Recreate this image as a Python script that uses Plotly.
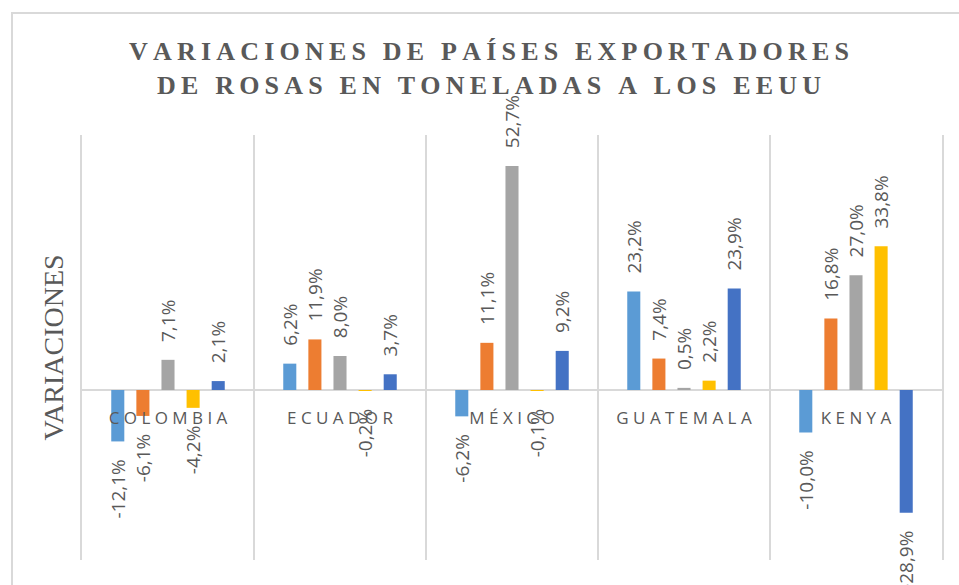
import plotly.graph_objects as go

# ---- data ----
categories = ["COLOMBIA", "ECUADOR", "MÉXICO", "GUATEMALA", "KENYA"]
tick_labels = ["C O L O M B I A", "E C U A D O R", "M É X I C O", "G U A T E M A L A", "K E N Y A"]
series_names = ["Serie 1", "Serie 2", "Serie 3", "Serie 4", "Serie 5"]
serie1 = [-12.1, 6.2, -6.2, 23.2, -10.0]
serie2 = [-6.1, 11.9, 11.1, 7.4, 16.8]
serie3 = [7.1, 8.0, 52.7, 0.5, 27.0]
serie4 = [-4.2, -0.2, -0.1, 2.2, 33.8]
serie5 = [2.1, 3.7, 9.2, 23.9, -28.9]
colors = ["#5B9BD5", "#ED7D31", "#A5A5A5", "#FFC000", "#4472C4"]
title_lines = ["VARIACIONES DE PAÍSES EXPORTADORES", "DE ROSAS EN TONELADAS A LOS EEUU"]
y_title = "VARIACIONES"

NBSP = "\u00a0"
THIN = "\u2009"


def fmt(v):
    s = f"{v:.1f}".replace(".", ",") + "%"
    pad = NBSP * 3
    return pad + s if v >= 0 else s + pad


def spaced(line):
    return (THIN + NBSP + THIN).join(THIN.join(w) for w in line.split(" "))


fig = go.Figure()
for name, vals, col in zip(series_names, [serie1, serie2, serie3, serie4, serie5], colors):
    fig.add_trace(go.Bar(
        name=name, x=categories, y=vals,
        marker=dict(color=col, line=dict(width=0)),
        text=[fmt(v) for v in vals],
        textposition="outside", textangle=-90,
        textfont=dict(family="Open Sans", size=19, color="#595959"),
        cliponaxis=False, constraintext="none",
    ))

GRID = "#D9D9D9"
fig.update_layout(
    width=959, height=585,
    paper_bgcolor="white", plot_bgcolor="white",
    showlegend=False,
    barmode="group", bargap=0.27, bargroupgap=0.48,
    margin=dict(l=82, r=17, t=135, b=25, autoexpand=False),
    title=dict(
        text="<br>".join(spaced(l) for l in title_lines),
        x=489 / 959, xanchor="center", xref="container",
        y=1 - 60 / 585, yanchor="top", yref="container",
        font=dict(family="Liberation Serif", size=26, color="#595959", weight="bold"),
    ),
    xaxis=dict(
        type="category", tickmode="array", tickvals=categories, ticktext=tick_labels,
        anchor="free", position=0.4, range=[-0.5, 4.5],
        showgrid=True, gridcolor=GRID, gridwidth=2, tickson="boundaries",
        ticks="", ticklabelstandoff=16,
        tickfont=dict(family="Open Sans", size=17, color="#595959"),
        showline=False, zeroline=False,
    ),
    yaxis=dict(
        range=[-40, 60], showticklabels=False, showgrid=False, ticks="",
        zeroline=True, zerolinecolor=GRID, zerolinewidth=2,
        showline=True, mirror=True, linecolor=GRID, linewidth=2,
        title=dict(text=y_title, standoff=8,
                   font=dict(family="Liberation Serif", size=28, color="#595959")),
    ),
    shapes=[dict(type="rect", xref="paper", yref="paper",
                 x0=(12 - 82) / 860, x1=1.3, y0=-0.3, y1=1 + (135 - 13) / 425,
                 line=dict(color=GRID, width=2), fillcolor="rgba(0,0,0,0)", layer="below")],
)

fig.write_html("out.html", config={"displayModeBar": False},
               post_script="document.body.style.margin='0';")
